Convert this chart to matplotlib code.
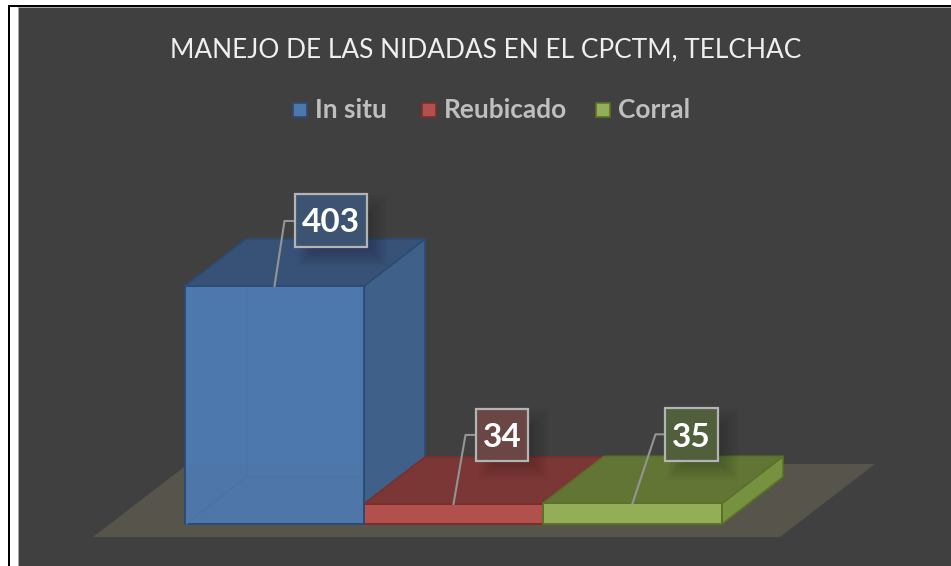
import matplotlib
matplotlib.use("Agg")
import matplotlib.pyplot as plt
from matplotlib.patches import Polygon, Rectangle

title = "MANEJO DE LAS NIDADAS EN EL CPCTM, TELCHAC"
categories = ["In situ", "Reubicado", "Corral"]
values = [403, 34, 35]

W, H = 951, 566
BG = "#404040"
front = ["#4d78ae", "#b1504c", "#93ae57"]
side = ["#3f6189", "#8c4340", "#76913f"]
top = ["#375276", "#7b3735", "#637535"]
edge = ["#2b4b74", "#7a2f2c", "#5a7228"]
box_fill = ["#3c5472", "#6a4644", "#515f3c"]

# scale: pixels per category unit / per value unit
PX_X, PX_Y = 179.0, 238.0 / 403.0
X0, Y0 = 185.0, 524.0
DX, DY = 61.0 / PX_X, 47.0 / PX_Y

plt.rcParams["font.family"] = ["Lato", "DejaVu Sans"]
fig = plt.figure(figsize=(W / 100, H / 100), dpi=100, facecolor="white")
ax = fig.add_axes([0, 0, 1, 1])
ax.set_xlim(-X0 / PX_X, (W - X0) / PX_X)
ax.set_ylim((Y0 - H) / PX_Y, Y0 / PX_Y)
ax.axis("off")


def px(x, y):
    return (x - X0) / PX_X, (Y0 - y) / PX_Y


def rect(x0, y0, x1, y1, color, z):
    ax.add_patch(Polygon([px(x0, y0), px(x1, y0), px(x1, y1), px(x0, y1)],
                         fc=color, ec="none", zorder=z))


# frame
rect(0, 0, W, H, "white", 0)
rect(8, 5, W, H, "black", 0.1)
rect(10, 7, W, H, "white", 0.2)
rect(18, 7, W, H, "#a6a6a6", 0.3)
rect(19, 8, W, H, BG, 0.4)

# floor
ax.add_patch(Polygon([px(93, 537), px(780, 537), px(875, 464), px(188, 464)],
                     fc="#57544b", ec="none", zorder=1))

# bars
for i, v in enumerate(values):
    z = 2 if i else 6
    x0, x1 = i, i + 1
    ax.add_patch(Polygon([(x1, 0), (x1 + DX, DY), (x1 + DX, v + DY), (x1, v)],
                         fc=side[i], ec=edge[i], lw=1.2, zorder=1.5 if i == 0 else z,
                         joinstyle="round"))
    ax.add_patch(Polygon([(x0, v), (x1, v), (x1 + DX, v + DY), (x0 + DX, v + DY)],
                         fc=top[i], ec=edge[i], lw=1.2, zorder=z + .1, joinstyle="round"))
    ax.add_patch(Polygon([(x0, 0), (x1, 0), (x1, v), (x0, v)],
                         fc=front[i], ec=edge[i], lw=1.4, zorder=z + .2, joinstyle="round"))
    if i == 0:
        # faint see-through edges of the translucent box
        ax.plot([x0 + DX, x0 + DX], [v - 2, DY], color="#4872a8", lw=1, zorder=z + .3)
        ax.plot([x0 + 0.01, x0 + DX, x1 - 0.01], [0.5, DY, DY], color="#4873aa", lw=1, zorder=z + .3)
        rect(186, 465, 363, 523, "#56739a", z + .25)
        ax.patches[-1].set_alpha(0.25)

# labels
elbow = [(10, 65), (12, 69), (23, 69)]
box_offset = [(56.5, 65.5), (48.5, 69), (59, 68.5)]
box_size = [(72, 53), (52, 52), (53, 53)]
for i, v in enumerate(values):
    ax_x = i + 0.5
    ay = Y0 - v * PX_Y
    ax_px = X0 + ax_x * PX_X
    cx, cy = ax_px + box_offset[i][0], ay - box_offset[i][1]
    bw, bh = box_size[i]
    ex, ey = ax_px + elbow[i][0], ay - elbow[i][1]
    ax.plot(*zip(px(ax_px, ay), px(ex, ey), px(cx - bw / 2, ey)),
            color="#949494", lw=1.5, zorder=8, solid_joinstyle="round")
    # soft shadow
    for g in range(14):
        s = -9 + g * 1.5
        ax.add_patch(Rectangle(px(cx - bw / 2 + 12 - s, cy + bh / 2 + 9 + s),
                               (bw - 2 + 2 * s) / PX_X, (bh - 2 + 2 * s) / PX_Y,
                               fc="black", alpha=0.016, ec="none", zorder=8.5))
    ax.add_patch(Rectangle(px(cx - bw / 2, cy + bh / 2), bw / PX_X, bh / PX_Y,
                           fc=box_fill[i], ec="#b4b4b4", lw=1.6, zorder=9))
    ax.text(*px(cx, cy), str(v), color="white", fontsize=24, fontweight="bold",
            ha="center", va="center_baseline", zorder=10)

# title
ax.text(*px(486, 50), title, color="#efefef", fontsize=18.9, ha="center", va="center", zorder=10)

# legend
leg_sq = [293, 422, 596]
leg_tx = [315, 444, 618]
for i, c in enumerate(categories):
    ax.add_patch(Rectangle(px(leg_sq[i], 117), 14 / PX_X, 14 / PX_Y, fc=front[i], ec=edge[i],
                           lw=1.2, zorder=10))
    ax.text(*px(leg_tx[i], 110), c, color="#bfbfbf", fontsize=18.9, fontweight="bold",
            ha="left", va="center", zorder=10)

fig.savefig("out.png", dpi=100, facecolor="white")
